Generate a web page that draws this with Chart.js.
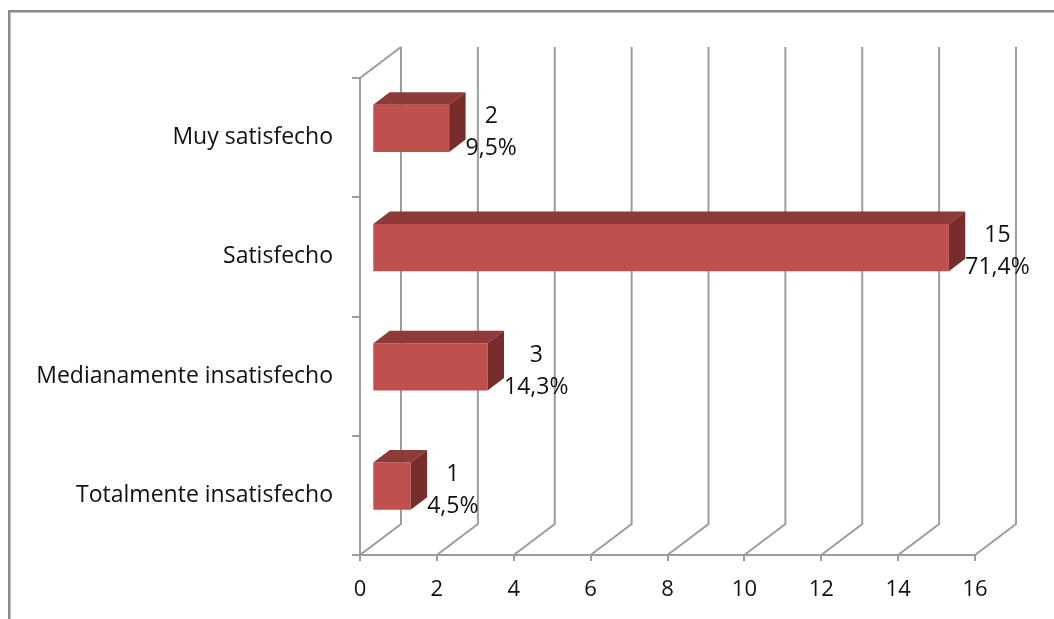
<!DOCTYPE html>
<html>
<head>
<meta charset="utf-8">
<script src="https://cdn.jsdelivr.net/npm/chart.js@4"></script>
<style>
  body { margin: 0; background: #fff; }
  canvas { display: block; }
</style>
</head>
<body>
<canvas id="myChart" width="1054" height="619"></canvas>
<script>
// Survey results
const categories = ['Muy satisfecho', 'Satisfecho', 'Medianamente insatisfecho', 'Totalmente insatisfecho'];
const counts = [2, 15, 3, 1];
const percents = ['9,5%', '71,4%', '14,3%', '4,5%'];
const xMin = 0;
const xMax = 16;
const xStep = 2;

const gridColor = '#9C9C9C';
const depth = { dx: 41, dy: -31 };   // front plane -> back wall
const barFront = 0.3;                 // bars sit between 30% and 70% of the depth
const barBack = 0.7;

// Fake 3D: walls, floor lines, bar faces and two-line value labels
const box3d = {
    id: 'box3d',
    beforeDraw(chart) {
        const ctx = chart.ctx;
        ctx.save();
        ctx.strokeStyle = '#8A8A8A';
        ctx.lineWidth = 2.5;
        ctx.strokeRect(9.25, 11.25, 1200, 800);
        ctx.restore();
    },
    beforeDatasetsDraw(chart) {
        const ctx = chart.ctx;
        const area = chart.chartArea;
        const x = chart.scales.x;
        const backTop = area.top + depth.dy;
        ctx.save();
        ctx.strokeStyle = gridColor;
        ctx.lineWidth = 2;
        // side wall top edge
        ctx.beginPath();
        ctx.moveTo(area.left, area.top);
        ctx.lineTo(area.left + depth.dx, backTop);
        ctx.stroke();
        // floor diagonals + back wall verticals
        x.ticks.forEach(t => {
            const px = x.getPixelForValue(t.value);
            ctx.beginPath();
            ctx.moveTo(px, area.bottom);
            ctx.lineTo(px + depth.dx, area.bottom + depth.dy);
            ctx.lineTo(px + depth.dx, backTop);
            ctx.stroke();
        });
        ctx.restore();

        // bars are drawn on the plane a little behind the front
        ctx.save();
        ctx.translate(depth.dx * barFront, depth.dy * barFront);
    },
    afterDatasetsDraw(chart) {
        const ctx = chart.ctx;
        const bars = chart.getDatasetMeta(0).data;
        const ddx = depth.dx * (barBack - barFront);
        const ddy = depth.dy * (barBack - barFront);
        bars.forEach(bar => {
            const p = bar.getProps(['x', 'y', 'base', 'height'], true);
            const top = p.y - p.height / 2;
            const bottom = p.y + p.height / 2;
            // top face
            ctx.fillStyle = '#8E3A38';
            ctx.beginPath();
            ctx.moveTo(p.base, top);
            ctx.lineTo(p.x, top);
            ctx.lineTo(p.x + ddx, top + ddy);
            ctx.lineTo(p.base + ddx, top + ddy);
            ctx.closePath();
            ctx.fill();
            // end face
            ctx.fillStyle = '#772D2B';
            ctx.beginPath();
            ctx.moveTo(p.x, top);
            ctx.lineTo(p.x + ddx, top + ddy);
            ctx.lineTo(p.x + ddx, bottom + ddy);
            ctx.lineTo(p.x, bottom);
            ctx.closePath();
            ctx.fill();
        });
        ctx.restore();

        // value + percentage next to the back end of each bar
        ctx.save();
        ctx.font = '23px "Open Sans"';
        ctx.fillStyle = '#111';
        ctx.textAlign = 'center';
        ctx.textBaseline = 'alphabetic';
        bars.forEach((bar, i) => {
            const p = bar.getProps(['x', 'y'], true);
            const line1 = String(counts[i]);
            const line2 = percents[i];
            const w = Math.max(ctx.measureText(line1).width, ctx.measureText(line2).width);
            const cx = p.x + depth.dx * barBack + w / 2;
            ctx.fillText(line1, cx, p.y - 14.5);
            ctx.fillText(line2, cx, p.y + 17.5);
        });
        ctx.restore();
    }
};

Chart.defaults.font.family = '"Open Sans", sans-serif';
Chart.defaults.color = '#111';

const data = {
    labels: categories,
    datasets: [{
        data: counts,
        backgroundColor: '#C0504D',
        borderWidth: 0,
        categoryPercentage: 1,
        barPercentage: 0.395
    }]
};

const config = {
    type: 'bar',
    data: data,
    options: {
        indexAxis: 'y',
        responsive: false,
        animation: false,
        events: [],
        layout: {
            padding: { top: 78, right: 79, left: 0, bottom: 0 }
        },
        plugins: {
            legend: { display: false },
            tooltip: { enabled: false }
        },
        scales: {
            x: {
                min: xMin,
                max: xMax,
                ticks: {
                    stepSize: xStep,
                    font: { size: 22 },
                    padding: 16,
                    maxRotation: 0
                },
                grid: {
                    drawOnChartArea: false,
                    color: gridColor,
                    lineWidth: 2,
                    tickLength: 6
                },
                border: { display: true, color: gridColor, width: 2 },
                afterFit(scale) { scale.height = 64; }
            },
            y: {
                ticks: {
                    font: { size: 23 },
                    padding: 19
                },
                grid: {
                    drawOnChartArea: false,
                    color: gridColor,
                    lineWidth: 2,
                    tickLength: 8
                },
                border: { display: true, color: gridColor, width: 2 },
                afterFit(scale) { scale.width = 360; }
            }
        }
    },
    plugins: [box3d]
};

const myChart = new Chart(document.getElementById('myChart'), config);
</script>
</body>
</html>
